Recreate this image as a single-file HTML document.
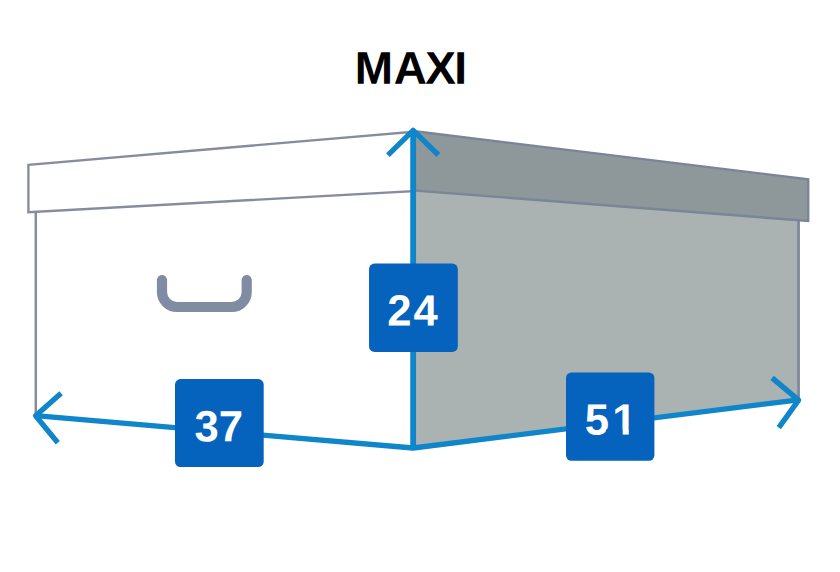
<!DOCTYPE html>
<html lang="en">
<head>
<meta charset="utf-8">
<title>MAXI</title>
<style>
  html, body { margin: 0; padding: 0; background: #ffffff; }
  body { width: 840px; height: 572px; overflow: hidden; position: relative;
         font-family: "Liberation Sans", sans-serif; }
  svg { position: absolute; left: 0; top: 0; display: block; }
  .title { font-family: "Liberation Sans", sans-serif; font-weight: bold; font-size: 45.9px; fill: #000; }
  .num { font-family: "Liberation Sans", sans-serif; font-weight: bold; font-size: 43.6px; fill: #fff; }
</style>
</head>
<body>
<svg width="840" height="572" viewBox="0 0 840 572">
  <rect width="840" height="572" fill="#ffffff"/>

  <!-- title -->
  <text class="title" transform="rotate(0.03 409 83.7)" x="354.68 393.8 425.3 454.17" y="83.7">MAXI</text>

  <!-- right body (shaded side) -->
  <polygon points="413,190.4 798.9,220.5 798.9,400 413,448" fill="#aab2b2"/>
  <line x1="798.6" y1="221" x2="798.6" y2="400" stroke="#7a8598" stroke-width="2.6"/>

  <!-- right lid -->
  <polygon points="413,131.0 808.2,179.3 808.2,221.0 413,190.4" fill="#8e9799" stroke="#7a8598" stroke-width="2.4" stroke-linejoin="miter"/>

  <!-- left body outline -->
  <line x1="35.8" y1="212" x2="35.8" y2="415" stroke="#868b9d" stroke-width="2.5"/>

  <!-- left lid -->
  <polygon points="28.4,164.8 413,131.8 413,191.2 28.4,212.2" fill="#ffffff" stroke="#868b9d" stroke-width="2.35" stroke-linejoin="miter"/>

  <!-- handle -->
  <path d="M162,280 V292 A15,15 0 0 0 177,307 H231.7 A15,15 0 0 0 246.7,292 V280" fill="none" stroke="#808ca3" stroke-width="10.2" stroke-linecap="round" stroke-linejoin="round"/>

  <!-- dimension lines -->
  <g fill="none" stroke="#0f86ca" stroke-width="5.3" stroke-linejoin="round" stroke-linecap="butt">
    <polyline points="35.6,415.7 413.15,448 798.6,399.8"/>
    <line x1="413.15" y1="130.3" x2="413.15" y2="448" stroke-width="5.8"/>
    <polyline points="387.9,155.1 413.15,130.3 438.4,155.0"/>
    <polyline points="61.1,393.2 35.6,415.7 57.8,442.8"/>
    <polyline points="772.1,377.9 798.6,400.1 778.8,427.6"/>
  </g>

  <!-- labels -->
  <g>
    <rect x="369.05" y="263.6" width="88.75" height="88.3" rx="5.5" ry="5.5" fill="#0562bd"/>
    <text class="num" transform="rotate(0.03 413 325.6)" x="387.29 413.41" y="325.6">24</text>
    <rect x="175.0" y="379.1" width="88.7" height="88" rx="5.5" ry="5.5" fill="#0562bd"/>
    <text class="num" transform="rotate(0.03 219 441.2)" x="194.41 218.65" y="441.2">37</text>
    <rect x="566.0" y="372.4" width="88.4" height="88.4" rx="5.5" ry="5.5" fill="#0562bd"/>
    <clipPath id="nofoot"><path clip-rule="evenodd" d="M560,360 H660 V470 H560 Z M606,429.5 H622.66 V440 H606 Z M628.81,429.5 H644 V440 H628.81 Z"/></clipPath>
    <g clip-path="url(#nofoot)"><text class="num" transform="rotate(0.03 608 434.5)" x="584.81 612.14" y="434.5">51</text></g>
  </g>
</svg>
</body>
</html>
